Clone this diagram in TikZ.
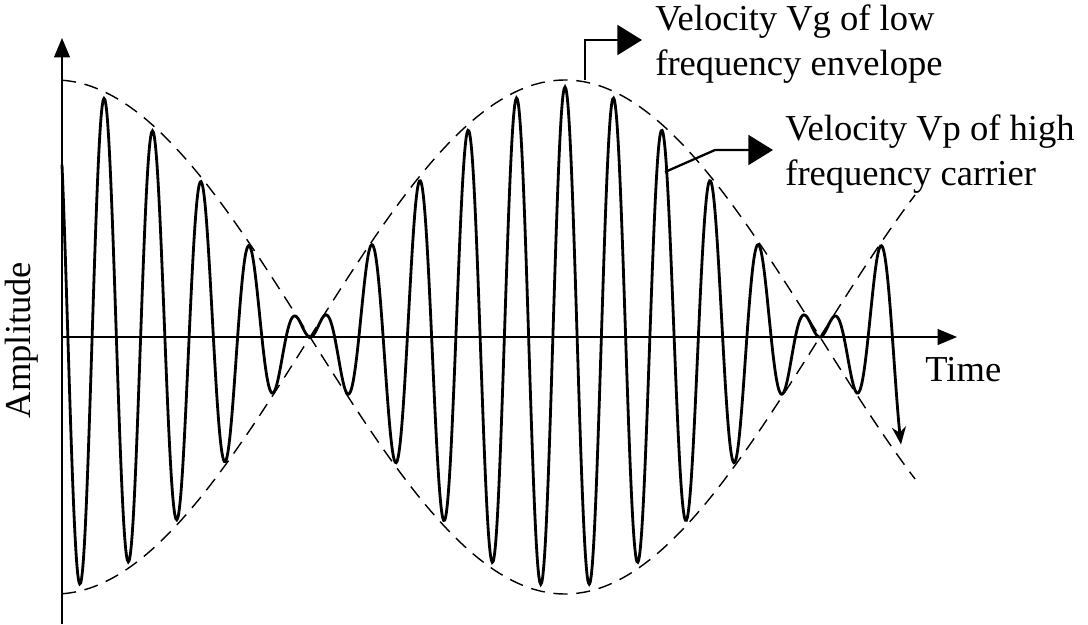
\documentclass[tikz,border=0pt]{standalone}
\usepackage{fontspec}
\setmainfont{Liberation Serif}
\usetikzlibrary{arrows.meta}
\begin{document}
\begin{tikzpicture}[x=0.02cm,y=-0.02cm,
  axis/.style={line width=0.9pt,-{Triangle[length=11pt,width=9pt]}},
  env/.style={dash pattern=on 8pt off 5pt,line width=0.8pt},
  sig/.style={line width=1.6pt},
  callout/.style={line width=1.3pt,-{Triangle[length=14pt,width=17pt]}},
  lbl/.style={font=\fontsize{20.8}{26}\selectfont,align=left,anchor=north west,inner sep=0pt}]
\useasboundingbox (0,0) rectangle (1088,625);
\coordinate (o) at (62,337);
\coordinate (ytop) at (62,38);
\coordinate (ybot) at (62,624);
\coordinate (xend) at (957,337);
\draw[axis] (ybot) -- (ytop);
\draw[axis] (o) -- (xend);
% envelopes
\draw[env] plot[domain=62:915,samples=200] (\x,{337-257*cos((\x-565)/510*180)});
\draw[env] plot[domain=62:915,samples=200] (\x,{337+257*cos((\x-565)/510*180)});
% signal
\draw[sig,-{Stealth[length=10pt,width=8pt]}] plot[domain=62:901,samples=900,smooth] (\x,{337-250*cos((\x-565)/510*180)*cos((\x-565)/48.5*360)});
% callouts
\coordinate (vgs) at (585,80);
\coordinate (vge) at (642,40);
\coordinate (vps) at (665,172);
\coordinate (vpe) at (773,150);
\draw[callout] (vgs) -- (585,40) -- (vge);
\draw[callout] (vps) -- (715,150) -- (vpe);
\node[lbl] (vg) at (655,4) {Velocity Vg of low\\frequency envelope};
\node[lbl] (vp) at (785,114) {Velocity Vp of high\\frequency carrier};
\node[lbl] (time) at (925,357) {Time};
\node[font=\fontsize{20.8}{24}\selectfont,rotate=90] (amp) at (22,340) {Amplitude};
\end{tikzpicture}
\end{document}
